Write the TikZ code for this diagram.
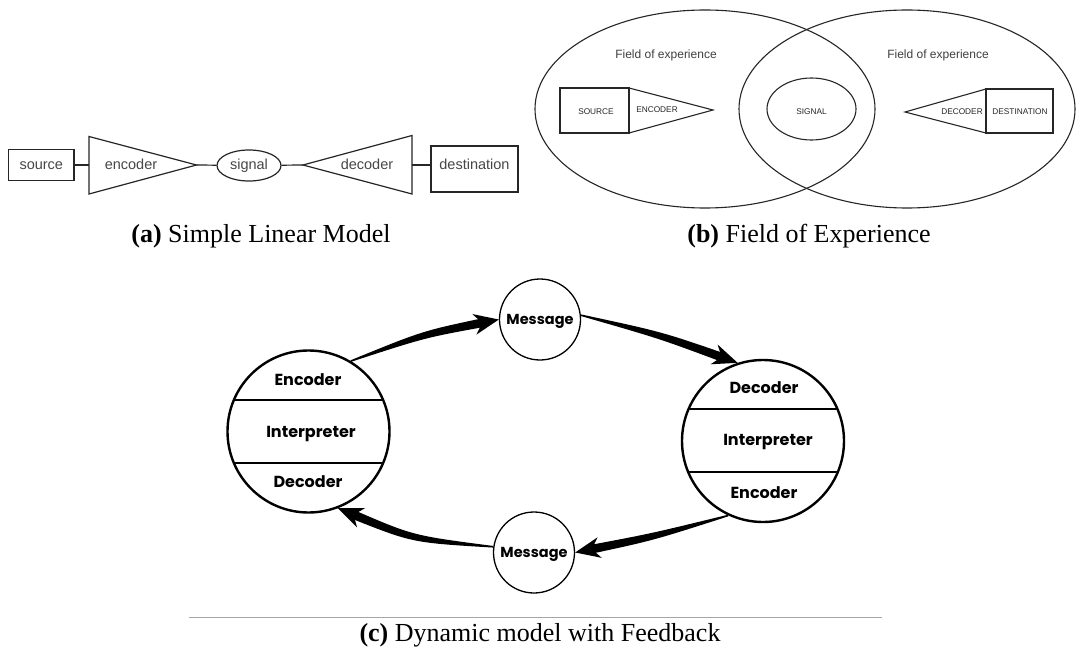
\documentclass[tikz,border=0pt]{standalone}
\usepackage{fontspec}
\setmainfont{Liberation Serif}
\newfontfamily\arial{Liberation Sans}
\newfontfamily\gothic{Poppins}
\usetikzlibrary{calc,shapes.geometric}

% tapered, slightly curved feedback arrow: #1 start, #2 tip, #3 bulge
\newcommand\flowarrow[3]{%
  \coordinate (fa-s) at (#1);
  \coordinate (fa-t) at (#2);
  \coordinate (fa-c) at ($(fa-s)!0.5!(fa-t)!#3!90:(fa-t)$);
  \coordinate (fa-b) at ($(fa-t)!17pt!(fa-c)$);
  \coordinate (fa-k) at ($(fa-t)!25pt!(fa-c)$);
  \fill ($(fa-s)!0.8pt!90:(fa-c)$) .. controls ($(fa-c)!3.6pt!-90:(fa-s)$) .. ($(fa-b)!4.4pt!-90:(fa-c)$)
     -- ($(fa-b)!4.4pt!90:(fa-c)$) .. controls ($(fa-c)!3.6pt!90:(fa-s)$) .. ($(fa-s)!0.8pt!-90:(fa-c)$) -- cycle;
  \fill (fa-t) -- ($(fa-k)!10.5pt!90:(fa-t)$) -- (fa-b) -- ($(fa-k)!10.5pt!-90:(fa-t)$) -- cycle;
}

\begin{document}
\begin{tikzpicture}[x=1pt,y=-1pt,
  lin/.style={draw=black!85,line width=1.2pt},
  lintext/.style={text=black!72,font=\arial\fontsize{14.5}{16}\selectfont,inner sep=0pt,anchor=base},
  linbox/.style={lin,rectangle,inner sep=0pt},
  foe/.style={draw=black!85,line width=1.1pt},
  foetext/.style={text=black!85,font=\arial\fontsize{8.3}{9}\selectfont,inner sep=0pt,anchor=base},
  foelabel/.style={text=black!75,font=\arial\fontsize{12}{13}\selectfont,inner sep=0pt,anchor=base},
  station/.style={circle,draw,line width=2.4pt,minimum size=162pt,inner sep=0pt},
  msg/.style={circle,draw,line width=1.3pt,minimum size=81pt,inner sep=0pt},
  msgtext/.style={font=\gothic\bfseries\fontsize{14.5}{16}\selectfont,inner sep=0pt,anchor=base},
  role/.style={font=\gothic\bfseries\fontsize{16}{18}\selectfont,inner sep=0pt,anchor=base},
  caption/.style={font=\fontsize{26}{28}\selectfont,anchor=base,inner sep=0pt}]
\useasboundingbox[fill=white] (0,0) rectangle (1076,655);

% ---------- (a) simple linear model ----------
\node[linbox,minimum width=65.4pt,minimum height=31pt] (src) at (41.3,165) {};
\node[lintext] (srct) at (41.3,170) {source};
\coordinate (encL) at (89,165);
\coordinate (encT) at (196.5,165);
\draw[lin,line join=miter] (89,136.5) -- (encT) -- (89,194) -- cycle;
\node[lintext] (enc) at (131,170) {encoder};
\node[lin,ellipse,minimum width=64pt,minimum height=31pt,inner sep=0pt] (sig) at (249,165.5) {};
\node[lintext] (sigt) at (249,170) {signal};
\coordinate (decT) at (303,165);
\coordinate (decB) at (412,165);
\draw[lin,line join=miter] (412,135.5) -- (decT) -- (412,194) -- cycle;
\node[lintext] (dec) at (367,170) {decoder};
\node[linbox,minimum width=87pt,minimum height=46pt] (dst) at (474.5,169) {};
\node[lintext] (dstt) at (474.5,170) {destination};
\draw[lin] (src) -- (encL);
\draw[lin] (encT) -- (sig);
\draw[lin] (sig) -- (decT);
\draw[lin] (decB) -- (decB -| dst.west);

\node[caption] (capa) at (261,242) {\textbf{(a)} Simple Linear Model};

% ---------- (b) field of experience ----------
\node[foe,ellipse,minimum width=340pt,minimum height=198pt,inner sep=0pt] (fA) at (705,109) {};
\node[foe,ellipse,minimum width=336pt,minimum height=198pt,inner sep=0pt] (fB) at (907,109) {};
\node[foelabel] (fAt) at (666,59) {Field of experience};
\node[foelabel] (fBt) at (938,59) {Field of experience};

\node[foe,rectangle,minimum width=69pt,minimum height=45pt,inner sep=0pt] (bsrc) at (594.5,110.5) {};
\node[foetext] (bsrct) at (596,115) {SOURCE};
\draw[foe,line join=miter] (629,88) -- (713,110) -- (629,133);
\node[foetext] (benc) at (657,113) {ENCODER};

\node[foe,ellipse,minimum width=89pt,minimum height=62pt,inner sep=0pt] (bsig) at (811.5,109) {};
\node[foetext] (bsigt) at (811.5,115) {SIGNAL};

\draw[foe,line join=miter] (986,89) -- (905,112) -- (986,133);
\node[foetext] (bdec) at (962,115) {DECODER};
\node[foe,rectangle,minimum width=67pt,minimum height=44pt,inner sep=0pt] (bdst) at (1019.5,111) {};
\node[foetext] (bdstt) at (1020,115) {DESTINATION};

\node[caption] (capb) at (809,242) {\textbf{(b)} Field of Experience};

% ---------- (c) dynamic model with feedback ----------
\node[station] (L) at (308.5,431.5) {};
\node[station] (R) at (763,441) {};
\begin{scope}
  \clip (308.5,431.5) circle[radius=80pt];
  \draw[line width=2.4pt] (220,400) -- (400,400) (220,463) -- (400,463);
\end{scope}
\begin{scope}
  \clip (763,441) circle[radius=80pt];
  \draw[line width=2.4pt] (670,409) -- (860,409) (670,472) -- (860,472);
\end{scope}
\node[role] (Lenc) at (308,385.5) {Encoder};
\node[role] (Lint) at (311,437.5) {Interpreter};
\node[role] (Ldec) at (308,487.5) {Decoder};
\node[role] (Rdec) at (764,393.5) {Decoder};
\node[role] (Rint) at (768,445.5) {Interpreter};
\node[role] (Renc) at (764,498.5) {Encoder};

\node[msg] (M1) at (540,319.5) {};
\node[msgtext] (M1t) at (540,324.5) {Message};
\node[msg] (M2) at (534,552.5) {};
\node[msgtext] (M2t) at (534,557.5) {Message};

\flowarrow{L.59}{M1.180}{6pt}
\flowarrow{M1.6}{R.108}{4pt}
\flowarrow{R.245}{M2.0}{3pt}
\flowarrow{M2.172}{L.291}{12pt}

\coordinate (ruleL) at (189,617);
\coordinate (ruleR) at (882,617);
\draw[black!35,line width=1pt] (ruleL) -- (ruleR);

\node[caption] (capc) at (540,641) {\textbf{(c)} Dynamic model with Feedback};
\end{tikzpicture}
\end{document}
